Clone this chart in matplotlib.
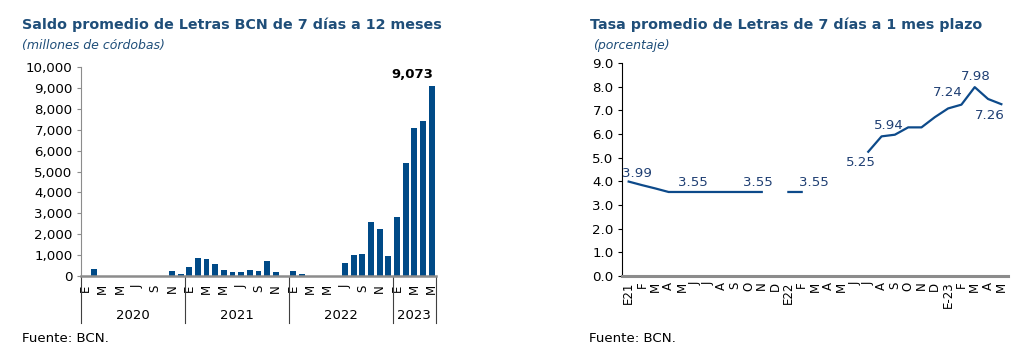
import matplotlib
matplotlib.use("Agg")
import matplotlib.pyplot as plt
import matplotlib.transforms as mtransforms
import numpy as np
from matplotlib.ticker import FuncFormatter

# ---- datos grafico izquierdo: saldo (millones de cordobas), ene-2020 a may-2023
saldo_2020 = [0, 320, 0, 0, 0, 0, 0, 0, 0, 0, 220, 80]
saldo_2021 = [420, 870, 820, 570, 270, 180, 180, 270, 220, 720, 170, 0]
saldo_2022 = [220, 100, 0, 20, 0, 0, 620, 1010, 1060, 2560, 2270, 950]
saldo_2023 = [2800, 5390, 7090, 7430, 9073]
anios = ["2020", "2021", "2022", "2023"]
meses_cortos = ["E", "M", "M", "J", "S", "N"]

# ---- datos grafico derecho: tasa promedio (%), ene-2021 a may-2023
meses_tasa = ["E21", "F", "M", "A", "M", "J", "J", "A", "S", "O", "N", "D",
              "E22", "F", "M", "A", "M", "J", "J", "A", "S", "O", "N", "D",
              "E-23", "F", "M", "A", "M"]
tasa = [3.99, 3.84, 3.70, 3.55, 3.55, 3.55, 3.55, 3.55, 3.55, 3.55, 3.55, np.nan,
        3.55, 3.55, np.nan, np.nan, np.nan, np.nan, 5.25, 5.90, 5.97, 6.28, 6.28, 6.71,
        7.08, 7.24, 7.98, 7.48, 7.26]
# etiquetas: (indice del mes, texto, desplazamiento en puntos)
etiquetas_tasa = [(0, "3.99", (6, 6)), (5, "3.55", (-2, 7)), (10, "3.55", (-3, 7)),
                  (13, "3.55", (9, 7)), (18, "5.25", (-5, -8)), (19, "5.94", (5, 8)),
                  (25, "7.24", (-10, 9)), (26, "7.98", (1, 8)), (28, "7.26", (-8, -8))]

azul_titulo = "#1f4e79"
azul_barra = "#004a87"
azul_linea = "#0d4a8a"
gris_eje = "#8c8c8c"

fig = plt.figure(figsize=(10.3, 3.59), dpi=100)
plt.rcParams["font.family"] = "DejaVu Sans"

# ================= izquierdo =================
saldo = saldo_2020 + saldo_2021 + saldo_2022 + saldo_2023
ax1 = fig.add_axes([81 / 1030, 83 / 359, 355 / 1030, 209 / 359])
x = np.arange(len(saldo))
ax1.bar(x, saldo, width=0.68, color=azul_barra)
ax1.set_xlim(-0.5, len(saldo) - 0.5)
ax1.set_ylim(0, 10000)
ax1.set_yticks(np.arange(0, 10001, 1000))
ax1.yaxis.set_major_formatter(FuncFormatter(lambda v, p: "{:,.0f}".format(v)))
ax1.tick_params(axis="y", labelsize=9.6, length=3, color=gris_eje, pad=3)
for s in ["top", "right"]:
    ax1.spines[s].set_visible(False)
ax1.spines["left"].set_color(gris_eje)
ax1.spines["bottom"].set_color(gris_eje)
ax1.spines["bottom"].set_linewidth(1.8)

ticks = [i for i in range(len(saldo)) if i % 2 == 0]
ax1.set_xticks(ticks)
ax1.set_xticklabels([meses_cortos[(i % 12) // 2] for i in ticks], rotation=90,
                    fontsize=8.5, va="top")
ax1.tick_params(axis="x", length=0, pad=6)

ultimo = len(saldo) - 1
ax1.text(ultimo - 2.2, saldo[ultimo] + 250, "{:,}".format(saldo[ultimo]),
         ha="center", va="bottom", fontsize=9.5, fontweight="bold")

trans = mtransforms.blended_transform_factory(ax1.transData, ax1.transAxes)
bordes = [-0.5, 11.5, 23.5, 35.5, len(saldo) - 0.5]
for b in bordes:
    ax1.plot([b, b], [0, -0.225], transform=trans, color="#404040", lw=0.8,
             clip_on=False)
for k, a in enumerate(anios):
    ax1.text((bordes[k] + bordes[k + 1]) / 2, -0.19, a, transform=trans,
             ha="center", va="center", fontsize=9.5)

fig.text(22 / 1030, 1 - 25 / 359, "Saldo promedio de Letras BCN de 7 días a 12 meses",
         color=azul_titulo, fontsize=10.3, fontweight="bold", va="center")
fig.text(22 / 1030, 1 - 46 / 359, "(millones de córdobas)", color=azul_titulo,
         fontsize=9, style="italic", va="center")
fig.text(22 / 1030, 1 - 338 / 359, "Fuente: BCN.", fontsize=9.6, va="center")

# ================= derecho =================
ax2 = fig.add_axes([622 / 1030, 83 / 359, 386 / 1030, 213 / 359])
xt = np.arange(len(tasa))
ax2.plot(xt, tasa, color=azul_linea, lw=1.6)
ax2.set_xlim(-0.5, len(tasa) - 0.5)
ax2.set_ylim(0, 9)
ax2.set_yticks(np.arange(0, 9.1, 1))
ax2.yaxis.set_major_formatter(FuncFormatter(lambda v, p: "{:.1f}".format(v)))
ax2.tick_params(axis="y", labelsize=9.6, length=3, pad=3)
for s in ["top", "right"]:
    ax2.spines[s].set_visible(False)
ax2.spines["bottom"].set_color(gris_eje)
ax2.spines["bottom"].set_linewidth(2.2)
ax2.set_xticks(xt)
ax2.set_xticklabels(meses_tasa, rotation=90, fontsize=8.5, va="top")
ax2.tick_params(axis="x", length=0, pad=4)

for i, txt, off in etiquetas_tasa:
    ax2.annotate(txt, (i, tasa[i]), xytext=off, textcoords="offset points",
                 ha="center", va="center", fontsize=9.6, color="#1f3f73")

fig.text(590 / 1030, 1 - 25 / 359, "Tasa promedio de Letras de 7 días a 1 mes plazo",
         color=azul_titulo, fontsize=10.3, fontweight="bold", va="center")
fig.text(593 / 1030, 1 - 46 / 359, "(porcentaje)", color=azul_titulo,
         fontsize=9, style="italic", va="center")
fig.text(589 / 1030, 1 - 338 / 359, "Fuente: BCN.", fontsize=9.6, va="center")

fig.savefig("out.png", dpi=100)
